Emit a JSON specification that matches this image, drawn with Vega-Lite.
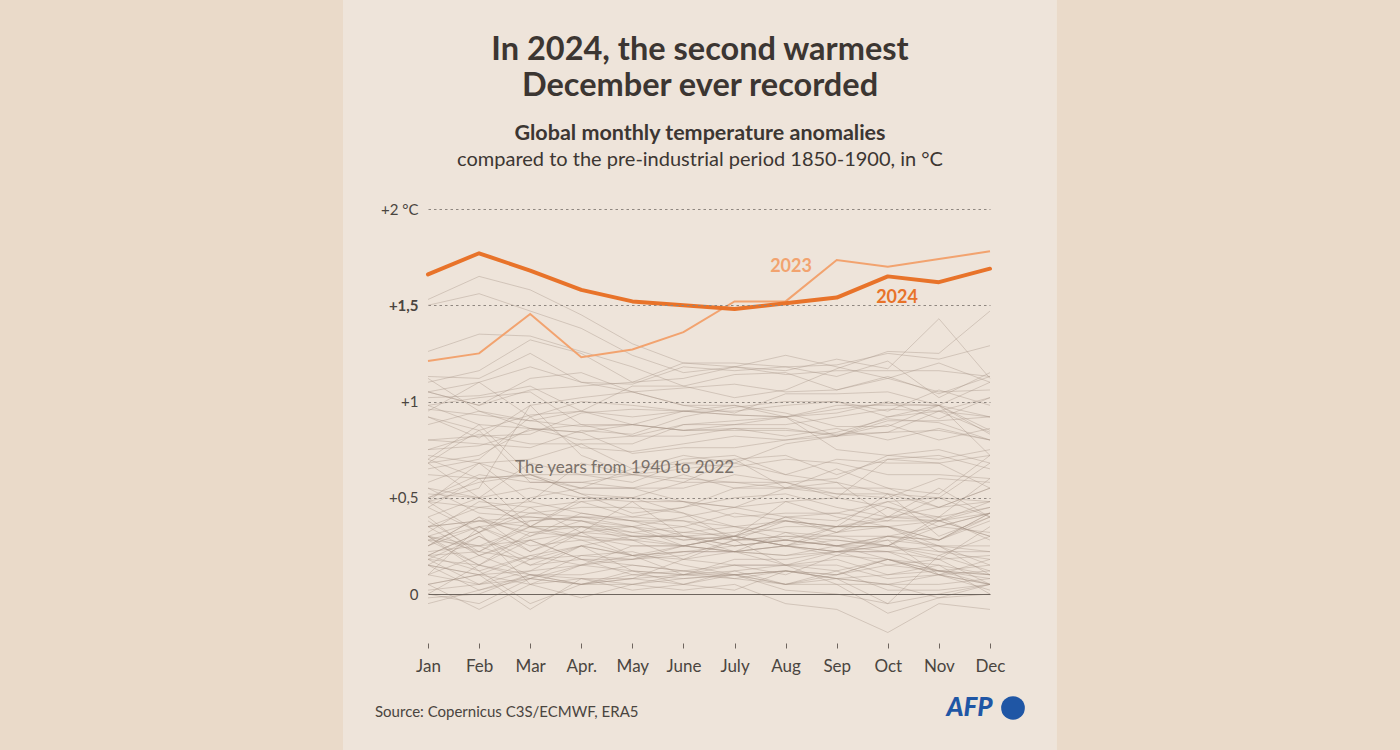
{
  "$schema": "https://vega.github.io/schema/vega-lite/v6.json",
  "autosize": {"type": "none"},
  "width": 562,
  "height": 434,
  "padding": {"left": 428, "top": 209, "right": 410, "bottom": 107},
  "background": "#eadac9",
  "config": {"font": "Lato", "view": {"stroke": null}},
  "datasets": {
    "one": [{}],
    "hist": [
      {"yr":1940,"m":[1,2,3,4,5,6,7,8,9,10,11,12],"t":[0.10,0.35,0.38,0.40,0.35,0.32,0.35,0.28,0.35,0.35,0.38,0.45]},
      {"yr":1941,"m":[1,2,3,4,5,6,7,8,9,10,11,12],"t":[0.25,0.40,0.30,0.42,0.38,0.35,0.42,0.38,0.35,0.52,0.30,0.40]},
      {"yr":1942,"m":[1,2,3,4,5,6,7,8,9,10,11,12],"t":[0.40,0.20,0.28,0.32,0.30,0.30,0.22,0.20,0.25,0.28,0.25,0.22]},
      {"yr":1943,"m":[1,2,3,4,5,6,7,8,9,10,11,12],"t":[0.25,0.35,0.22,0.35,0.28,0.25,0.30,0.25,0.32,0.45,0.40,0.45]},
      {"yr":1944,"m":[1,2,3,4,5,6,7,8,9,10,11,12],"t":[0.55,0.42,0.40,0.38,0.35,0.40,0.45,0.48,0.50,0.45,0.35,0.32]},
      {"yr":1945,"m":[1,2,3,4,5,6,7,8,9,10,11,12],"t":[0.35,0.20,0.30,0.38,0.30,0.25,0.30,0.48,0.40,0.35,0.25,0.15]},
      {"yr":1946,"m":[1,2,3,4,5,6,7,8,9,10,11,12],"t":[0.30,0.22,0.18,0.25,0.12,0.10,0.15,0.15,0.18,0.10,0.15,0.00]},
      {"yr":1947,"m":[1,2,3,4,5,6,7,8,9,10,11,12],"t":[0.15,0.10,0.20,0.25,0.20,0.22,0.22,0.25,0.20,0.30,0.25,0.10]},
      {"yr":1948,"m":[1,2,3,4,5,6,7,8,9,10,11,12],"t":[0.30,0.15,0.08,0.20,0.22,0.15,0.10,0.12,0.08,0.10,0.12,0.05]},
      {"yr":1949,"m":[1,2,3,4,5,6,7,8,9,10,11,12],"t":[0.30,0.12,0.20,0.15,0.12,0.10,0.12,0.15,0.12,0.18,0.10,0.05]},
      {"yr":1950,"m":[1,2,3,4,5,6,7,8,9,10,11,12],"t":[-0.05,0.02,0.10,0.08,0.08,0.10,0.10,0.05,0.05,-0.10,-0.02,0.00]},
      {"yr":1951,"m":[1,2,3,4,5,6,7,8,9,10,11,12],"t":[0.00,-0.05,0.08,0.15,0.25,0.25,0.30,0.35,0.35,0.35,0.28,0.38]},
      {"yr":1952,"m":[1,2,3,4,5,6,7,8,9,10,11,12],"t":[0.22,0.25,0.15,0.25,0.20,0.22,0.25,0.28,0.25,0.18,0.10,0.18]},
      {"yr":1953,"m":[1,2,3,4,5,6,7,8,9,10,11,12],"t":[0.35,0.38,0.40,0.38,0.32,0.35,0.28,0.28,0.25,0.22,0.18,0.20]},
      {"yr":1954,"m":[1,2,3,4,5,6,7,8,9,10,11,12],"t":[0.10,0.20,0.10,0.05,0.05,0.10,0.08,0.05,0.10,0.15,0.18,0.05]},
      {"yr":1955,"m":[1,2,3,4,5,6,7,8,9,10,11,12],"t":[0.20,0.12,-0.05,0.05,0.10,0.08,0.10,0.12,0.08,0.05,-0.02,0.05]},
      {"yr":1956,"m":[1,2,3,4,5,6,7,8,9,10,11,12],"t":[0.05,-0.08,0.05,0.08,0.05,0.08,0.10,0.02,0.00,-0.05,0.00,0.05]},
      {"yr":1957,"m":[1,2,3,4,5,6,7,8,9,10,11,12],"t":[0.05,0.10,0.12,0.25,0.30,0.30,0.28,0.30,0.28,0.25,0.35,0.42]},
      {"yr":1958,"m":[1,2,3,4,5,6,7,8,9,10,11,12],"t":[0.55,0.50,0.35,0.35,0.35,0.25,0.30,0.25,0.22,0.22,0.25,0.25]},
      {"yr":1959,"m":[1,2,3,4,5,6,7,8,9,10,11,12],"t":[0.28,0.25,0.35,0.30,0.25,0.25,0.22,0.25,0.22,0.15,0.12,0.15]},
      {"yr":1960,"m":[1,2,3,4,5,6,7,8,9,10,11,12],"t":[0.20,0.32,0.05,0.15,0.18,0.22,0.22,0.25,0.28,0.25,0.18,0.35]},
      {"yr":1961,"m":[1,2,3,4,5,6,7,8,9,10,11,12],"t":[0.30,0.38,0.32,0.35,0.30,0.30,0.25,0.28,0.25,0.25,0.20,0.12]},
      {"yr":1962,"m":[1,2,3,4,5,6,7,8,9,10,11,12],"t":[0.28,0.35,0.25,0.28,0.20,0.25,0.22,0.20,0.22,0.25,0.22,0.22]},
      {"yr":1963,"m":[1,2,3,4,5,6,7,8,9,10,11,12],"t":[0.18,0.30,0.15,0.18,0.18,0.20,0.28,0.38,0.35,0.38,0.38,0.30]},
      {"yr":1964,"m":[1,2,3,4,5,6,7,8,9,10,11,12],"t":[0.15,0.10,0.05,-0.02,0.05,0.02,0.05,-0.05,-0.08,-0.20,-0.05,-0.08]},
      {"yr":1965,"m":[1,2,3,4,5,6,7,8,9,10,11,12],"t":[0.15,0.02,0.08,0.05,0.08,0.05,0.02,0.12,0.10,0.18,0.12,0.10]},
      {"yr":1966,"m":[1,2,3,4,5,6,7,8,9,10,11,12],"t":[0.18,0.15,0.10,0.05,0.08,0.18,0.22,0.15,0.15,0.08,0.10,0.05]},
      {"yr":1967,"m":[1,2,3,4,5,6,7,8,9,10,11,12],"t":[0.10,0.05,0.12,0.15,0.20,0.10,0.18,0.18,0.22,0.28,0.10,0.12]},
      {"yr":1968,"m":[1,2,3,4,5,6,7,8,9,10,11,12],"t":[0.00,0.15,0.28,0.18,0.10,0.12,0.08,0.12,0.10,0.18,0.12,0.08]},
      {"yr":1969,"m":[1,2,3,4,5,6,7,8,9,10,11,12],"t":[0.20,0.22,0.38,0.40,0.38,0.30,0.25,0.28,0.25,0.30,0.35,0.42]},
      {"yr":1970,"m":[1,2,3,4,5,6,7,8,9,10,11,12],"t":[0.25,0.40,0.22,0.32,0.20,0.18,0.15,0.10,0.20,0.18,0.15,0.10]},
      {"yr":1971,"m":[1,2,3,4,5,6,7,8,9,10,11,12],"t":[0.18,0.05,0.08,0.05,0.12,0.05,0.10,0.12,0.08,0.05,0.10,0.02]},
      {"yr":1972,"m":[1,2,3,4,5,6,7,8,9,10,11,12],"t":[0.02,0.05,0.18,0.20,0.18,0.25,0.22,0.32,0.25,0.30,0.28,0.42]},
      {"yr":1973,"m":[1,2,3,4,5,6,7,8,9,10,11,12],"t":[0.35,0.45,0.48,0.42,0.38,0.38,0.30,0.25,0.22,0.22,0.12,0.10]},
      {"yr":1974,"m":[1,2,3,4,5,6,7,8,9,10,11,12],"t":[-0.02,0.00,0.10,0.10,0.15,0.12,0.15,0.15,0.05,0.05,0.05,0.08]},
      {"yr":1975,"m":[1,2,3,4,5,6,7,8,9,10,11,12],"t":[0.30,0.25,0.28,0.18,0.15,0.12,0.10,0.05,0.12,0.02,0.02,0.05]},
      {"yr":1976,"m":[1,2,3,4,5,6,7,8,9,10,11,12],"t":[0.05,0.10,-0.08,0.08,0.02,0.05,0.12,0.05,0.08,-0.05,0.20,0.30]},
      {"yr":1977,"m":[1,2,3,4,5,6,7,8,9,10,11,12],"t":[0.20,0.32,0.42,0.45,0.45,0.42,0.35,0.32,0.30,0.25,0.40,0.28]},
      {"yr":1978,"m":[1,2,3,4,5,6,7,8,9,10,11,12],"t":[0.35,0.38,0.35,0.28,0.28,0.18,0.28,0.15,0.22,0.25,0.38,0.30]},
      {"yr":1979,"m":[1,2,3,4,5,6,7,8,9,10,11,12],"t":[0.28,0.15,0.32,0.30,0.28,0.32,0.30,0.40,0.42,0.48,0.50,0.68]},
      {"yr":1980,"m":[1,2,3,4,5,6,7,8,9,10,11,12],"t":[0.40,0.50,0.35,0.50,0.50,0.48,0.40,0.42,0.42,0.38,0.50,0.40]},
      {"yr":1981,"m":[1,2,3,4,5,6,7,8,9,10,11,12],"t":[0.70,0.60,0.62,0.52,0.42,0.45,0.50,0.52,0.45,0.40,0.45,0.55]},
      {"yr":1982,"m":[1,2,3,4,5,6,7,8,9,10,11,12],"t":[0.15,0.30,0.18,0.32,0.35,0.28,0.30,0.25,0.35,0.40,0.40,0.60]},
      {"yr":1983,"m":[1,2,3,4,5,6,7,8,9,10,11,12],"t":[0.72,0.68,0.60,0.55,0.55,0.48,0.45,0.55,0.58,0.40,0.55,0.40]},
      {"yr":1984,"m":[1,2,3,4,5,6,7,8,9,10,11,12],"t":[0.45,0.32,0.45,0.32,0.48,0.30,0.32,0.38,0.35,0.35,0.22,0.18]},
      {"yr":1985,"m":[1,2,3,4,5,6,7,8,9,10,11,12],"t":[0.38,0.22,0.35,0.35,0.32,0.28,0.30,0.40,0.32,0.35,0.28,0.40]},
      {"yr":1986,"m":[1,2,3,4,5,6,7,8,9,10,11,12],"t":[0.48,0.45,0.42,0.40,0.40,0.38,0.35,0.38,0.32,0.40,0.38,0.42]},
      {"yr":1987,"m":[1,2,3,4,5,6,7,8,9,10,11,12],"t":[0.45,0.60,0.35,0.48,0.50,0.58,0.70,0.55,0.65,0.55,0.52,0.72]},
      {"yr":1988,"m":[1,2,3,4,5,6,7,8,9,10,11,12],"t":[0.68,0.50,0.68,0.62,0.62,0.58,0.58,0.55,0.55,0.55,0.45,0.48]},
      {"yr":1989,"m":[1,2,3,4,5,6,7,8,9,10,11,12],"t":[0.32,0.48,0.45,0.48,0.40,0.45,0.55,0.55,0.52,0.52,0.45,0.55]},
      {"yr":1990,"m":[1,2,3,4,5,6,7,8,9,10,11,12],"t":[0.48,0.55,0.98,0.72,0.62,0.60,0.58,0.58,0.50,0.70,0.72,0.65]},
      {"yr":1991,"m":[1,2,3,4,5,6,7,8,9,10,11,12],"t":[0.58,0.68,0.48,0.68,0.62,0.70,0.72,0.62,0.58,0.52,0.50,0.48]},
      {"yr":1992,"m":[1,2,3,4,5,6,7,8,9,10,11,12],"t":[0.62,0.60,0.62,0.52,0.50,0.42,0.28,0.30,0.30,0.30,0.28,0.42]},
      {"yr":1993,"m":[1,2,3,4,5,6,7,8,9,10,11,12],"t":[0.52,0.50,0.55,0.50,0.48,0.48,0.45,0.40,0.38,0.48,0.38,0.48]},
      {"yr":1994,"m":[1,2,3,4,5,6,7,8,9,10,11,12],"t":[0.48,0.32,0.50,0.55,0.55,0.62,0.55,0.58,0.60,0.72,0.75,0.68]},
      {"yr":1995,"m":[1,2,3,4,5,6,7,8,9,10,11,12],"t":[0.70,0.88,0.62,0.62,0.58,0.68,0.70,0.72,0.62,0.70,0.68,0.55]},
      {"yr":1996,"m":[1,2,3,4,5,6,7,8,9,10,11,12],"t":[0.50,0.62,0.58,0.58,0.55,0.55,0.62,0.58,0.52,0.50,0.60,0.58]},
      {"yr":1997,"m":[1,2,3,4,5,6,7,8,9,10,11,12],"t":[0.50,0.58,0.62,0.55,0.65,0.72,0.68,0.78,0.82,0.90,0.90,0.92]},
      {"yr":1998,"m":[1,2,3,4,5,6,7,8,9,10,11,12],"t":[0.95,1.10,0.92,1.00,0.98,0.95,0.98,0.92,0.75,0.72,0.70,0.75]},
      {"yr":1999,"m":[1,2,3,4,5,6,7,8,9,10,11,12],"t":[0.68,0.85,0.58,0.58,0.62,0.65,0.68,0.62,0.70,0.68,0.68,0.72]},
      {"yr":2000,"m":[1,2,3,4,5,6,7,8,9,10,11,12],"t":[0.48,0.68,0.70,0.78,0.65,0.68,0.66,0.70,0.68,0.62,0.62,0.60]},
      {"yr":2001,"m":[1,2,3,4,5,6,7,8,9,10,11,12],"t":[0.68,0.72,0.86,0.80,0.82,0.82,0.86,0.86,0.82,0.84,0.95,0.84]},
      {"yr":2002,"m":[1,2,3,4,5,6,7,8,9,10,11,12],"t":[0.98,1.02,1.05,0.88,0.88,0.85,0.86,0.82,0.86,0.80,0.86,0.80]},
      {"yr":2003,"m":[1,2,3,4,5,6,7,8,9,10,11,12],"t":[0.98,0.88,0.86,0.84,0.88,0.85,0.88,0.92,0.94,1.00,0.91,1.02]},
      {"yr":2004,"m":[1,2,3,4,5,6,7,8,9,10,11,12],"t":[0.88,0.95,0.86,0.84,0.73,0.76,0.76,0.80,0.82,0.92,0.98,0.85]},
      {"yr":2005,"m":[1,2,3,4,5,6,7,8,9,10,11,12],"t":[0.92,0.85,0.93,0.95,0.92,0.95,0.93,0.92,0.98,0.98,0.98,0.92]},
      {"yr":2006,"m":[1,2,3,4,5,6,7,8,9,10,11,12],"t":[0.75,0.83,0.78,0.78,0.78,0.88,0.88,0.88,0.92,0.96,0.95,1.02]},
      {"yr":2007,"m":[1,2,3,4,5,6,7,8,9,10,11,12],"t":[1.12,0.95,0.90,0.95,0.88,0.85,0.85,0.85,0.83,0.84,0.85,0.80]},
      {"yr":2008,"m":[1,2,3,4,5,6,7,8,9,10,11,12],"t":[0.65,0.70,0.92,0.76,0.74,0.78,0.82,0.80,0.84,0.91,0.89,0.80]},
      {"yr":2009,"m":[1,2,3,4,5,6,7,8,9,10,11,12],"t":[0.80,0.78,0.76,0.85,0.83,0.92,0.97,1.00,1.00,0.92,0.95,0.92]},
      {"yr":2010,"m":[1,2,3,4,5,6,7,8,9,10,11,12],"t":[1.05,1.10,1.18,1.10,1.05,0.98,0.98,0.94,0.87,0.87,0.98,0.72]},
      {"yr":2011,"m":[1,2,3,4,5,6,7,8,9,10,11,12],"t":[0.75,0.77,0.85,0.88,0.82,0.88,0.90,0.92,0.82,0.88,0.80,0.86]},
      {"yr":2012,"m":[1,2,3,4,5,6,7,8,9,10,11,12],"t":[0.80,0.82,0.83,0.94,0.96,0.95,0.93,0.92,0.96,0.99,0.98,0.83]},
      {"yr":2013,"m":[1,2,3,4,5,6,7,8,9,10,11,12],"t":[0.96,0.93,0.90,0.87,0.88,0.95,0.95,0.98,1.00,0.95,1.06,0.98]},
      {"yr":2014,"m":[1,2,3,4,5,6,7,8,9,10,11,12],"t":[0.92,0.81,0.98,1.02,1.05,0.98,0.94,1.04,1.04,1.05,0.98,1.10]},
      {"yr":2015,"m":[1,2,3,4,5,6,7,8,9,10,11,12],"t":[1.02,1.03,1.08,0.95,1.08,1.08,1.02,1.06,1.17,1.26,1.25,1.47]},
      {"yr":2016,"m":[1,2,3,4,5,6,7,8,9,10,11,12],"t":[1.53,1.65,1.58,1.45,1.30,1.20,1.18,1.24,1.18,1.12,1.20,1.10]},
      {"yr":2017,"m":[1,2,3,4,5,6,7,8,9,10,11,12],"t":[1.26,1.35,1.34,1.26,1.18,1.08,1.14,1.15,1.06,1.12,1.05,1.06]},
      {"yr":2018,"m":[1,2,3,4,5,6,7,8,9,10,11,12],"t":[1.05,0.98,1.12,1.15,1.05,1.07,1.09,1.05,1.06,1.13,1.04,1.13]},
      {"yr":2019,"m":[1,2,3,4,5,6,7,8,9,10,11,12],"t":[1.10,1.16,1.32,1.25,1.10,1.20,1.20,1.18,1.19,1.25,1.22,1.29]},
      {"yr":2020,"m":[1,2,3,4,5,6,7,8,9,10,11,12],"t":[1.50,1.56,1.47,1.38,1.24,1.15,1.18,1.16,1.22,1.17,1.43,1.12]},
      {"yr":2021,"m":[1,2,3,4,5,6,7,8,9,10,11,12],"t":[1.05,0.98,1.06,1.08,1.10,1.12,1.18,1.14,1.16,1.16,1.16,1.13]},
      {"yr":2022,"m":[1,2,3,4,5,6,7,8,9,10,11,12],"t":[1.13,1.12,1.25,1.10,1.09,1.18,1.16,1.18,1.13,1.21,1.02,1.15]}
    ],
    "y2023": [
      {"m":1,"t":1.21},{"m":2,"t":1.25},{"m":3,"t":1.455},{"m":4,"t":1.23},{"m":5,"t":1.27},{"m":6,"t":1.36},
      {"m":7,"t":1.52},{"m":8,"t":1.52},{"m":9,"t":1.735},{"m":10,"t":1.70},{"m":11,"t":1.74},{"m":12,"t":1.78}
    ],
    "y2024": [
      {"m":1,"t":1.66},{"m":2,"t":1.77},{"m":3,"t":1.68},{"m":4,"t":1.58},{"m":5,"t":1.52},{"m":6,"t":1.50},
      {"m":7,"t":1.48},{"m":8,"t":1.51},{"m":9,"t":1.54},{"m":10,"t":1.65},{"m":11,"t":1.62},{"m":12,"t":1.69}
    ]
  },
  "encoding": {
    "x": {
      "type": "quantitative",
      "scale": {"domain": [1, 12], "nice": false, "zero": false},
      "axis": {
        "title": null,
        "values": [1,2,3,4,5,6,7,8,9,10,11,12],
        "labelExpr": "['Jan','Feb','Mar','Apr.','May','June','July','Aug','Sep','Oct','Nov','Dec'][datum.value - 1]",
        "domain": false,
        "grid": false,
        "ticks": true,
        "tickSize": 5,
        "tickColor": "#6e655e",
        "labelFontSize": 17,
        "labelColor": "#4a4540",
        "labelPadding": 10,
        "labelFlush": false,
        "zindex": 1
      }
    },
    "y": {
      "type": "quantitative",
      "scale": {"domain": [-0.2545, 2], "nice": false, "zero": false},
      "axis": {
        "title": null,
        "values": [0, 0.5, 1, 1.5, 2],
        "labelExpr": "datum.value == 2 ? '+2 °C' : datum.value == 1.5 ? '+1,5' : datum.value == 1 ? '+1' : datum.value == 0.5 ? '+0,5' : '0'",
        "domain": false,
        "ticks": false,
        "grid": true,
        "gridDash": {"condition": {"test": "datum.value === 0", "value": []}, "value": [2.5, 3]},
        "gridColor": {"condition": {"test": "datum.value === 0", "value": "#6e655e"}, "value": "#8f8780"},
        "gridWidth": 1,
        "labelFontSize": 15,
        "labelColor": "#4a4540",
        "labelFontWeight": {"condition": {"test": "datum.value === 1.5", "value": "bold"}, "value": "normal"},
        "labelPadding": 10,
        "labelFlush": false,
        "zindex": 1
      }
    }
  },
  "layer": [
    {
      "data": {"name": "one"},
      "mark": {"type": "rect", "color": "#eee4da", "clip": false},
      "encoding": {
        "x": {"datum": -0.664, "type": "quantitative"},
        "x2": {"datum": 13.31},
        "y": {"datum": 3.09, "type": "quantitative"},
        "y2": {"datum": -0.82}
      }
    },
    {
      "data": {"name": "hist"},
      "transform": [{"flatten": ["m", "t"]}],
      "mark": {"type": "line", "stroke": "#a29184", "strokeWidth": 1, "opacity": 0.38},
      "encoding": {
        "x": {"field": "m", "type": "quantitative"},
        "y": {"field": "t", "type": "quantitative"},
        "detail": {"field": "yr", "type": "nominal"}
      }
    },
    {
      "data": {"name": "y2023"},
      "mark": {"type": "line", "stroke": "#f2a36f", "strokeWidth": 2},
      "encoding": {
        "x": {"field": "m", "type": "quantitative"},
        "y": {"field": "t", "type": "quantitative"}
      }
    },
    {
      "data": {"name": "y2024"},
      "mark": {"type": "line", "stroke": "#e8732a", "strokeWidth": 4, "strokeCap": "round", "strokeJoin": "round"},
      "encoding": {
        "x": {"field": "m", "type": "quantitative"},
        "y": {"field": "t", "type": "quantitative"}
      }
    },
    {
      "data": {"name": "one"},
      "mark": {"type": "text", "text": "2023", "color": "#f2a36f", "fontSize": 18, "fontWeight": "bold", "align": "center", "baseline": "middle"},
      "encoding": {"x": {"datum": 8.105, "type": "quantitative"}, "y": {"datum": 1.699, "type": "quantitative"}}
    },
    {
      "data": {"name": "one"},
      "mark": {"type": "text", "text": "2024", "color": "#e8732a", "fontSize": 18, "fontWeight": "bold", "align": "center", "baseline": "middle"},
      "encoding": {"x": {"datum": 10.18, "type": "quantitative"}, "y": {"datum": 1.538, "type": "quantitative"}}
    },
    {
      "data": {"name": "one"},
      "mark": {"type": "text", "text": "The years from 1940 to 2022", "color": "#7a716a", "fontSize": 17, "align": "left", "baseline": "middle"},
      "encoding": {"x": {"datum": 2.703, "type": "quantitative"}, "y": {"datum": 0.655, "type": "quantitative"}}
    },
    {
      "data": {"name": "one"},
      "mark": {"type": "text", "text": ["In 2024, the second warmest", "December ever recorded"], "color": "#3c3632", "fontSize": 32.5, "fontWeight": "bold", "align": "center", "baseline": "alphabetic", "lineHeight": 36},
      "encoding": {"x": {"datum": 6.324, "type": "quantitative"}, "y": {"datum": 2.776, "type": "quantitative"}}
    },
    {
      "data": {"name": "one"},
      "mark": {"type": "text", "text": "Global monthly temperature anomalies", "color": "#3c3632", "fontSize": 21.5, "fontWeight": "bold", "align": "center", "baseline": "alphabetic"},
      "encoding": {"x": {"datum": 6.324, "type": "quantitative"}, "y": {"datum": 2.357, "type": "quantitative"}}
    },
    {
      "data": {"name": "one"},
      "mark": {"type": "text", "text": "compared to the pre-industrial period 1850-1900, in °C", "color": "#3c3632", "fontSize": 20, "align": "center", "baseline": "alphabetic"},
      "encoding": {"x": {"datum": 6.324, "type": "quantitative"}, "y": {"datum": 2.224, "type": "quantitative"}}
    },
    {
      "data": {"name": "one"},
      "mark": {"type": "text", "text": "Source: Copernicus C3S/ECMWF, ERA5", "color": "#4a4540", "fontSize": 15, "align": "left", "baseline": "middle"},
      "encoding": {"x": {"datum": -0.037, "type": "quantitative"}, "y": {"datum": -0.613, "type": "quantitative"}}
    },
    {
      "data": {"name": "one"},
      "mark": {"type": "text", "text": "AFP", "color": "#1f56a5", "fontSize": 26, "fontWeight": 900, "fontStyle": "italic", "align": "center", "baseline": "middle"},
      "encoding": {"x": {"datum": 11.60, "type": "quantitative"}, "y": {"datum": -0.592, "type": "quantitative"}}
    },
    {
      "data": {"name": "one"},
      "mark": {"type": "point", "shape": "circle", "filled": true, "color": "#1f56a5", "size": 560, "opacity": 1},
      "encoding": {"x": {"datum": 12.45, "type": "quantitative"}, "y": {"datum": -0.592, "type": "quantitative"}}
    }
  ]
}
